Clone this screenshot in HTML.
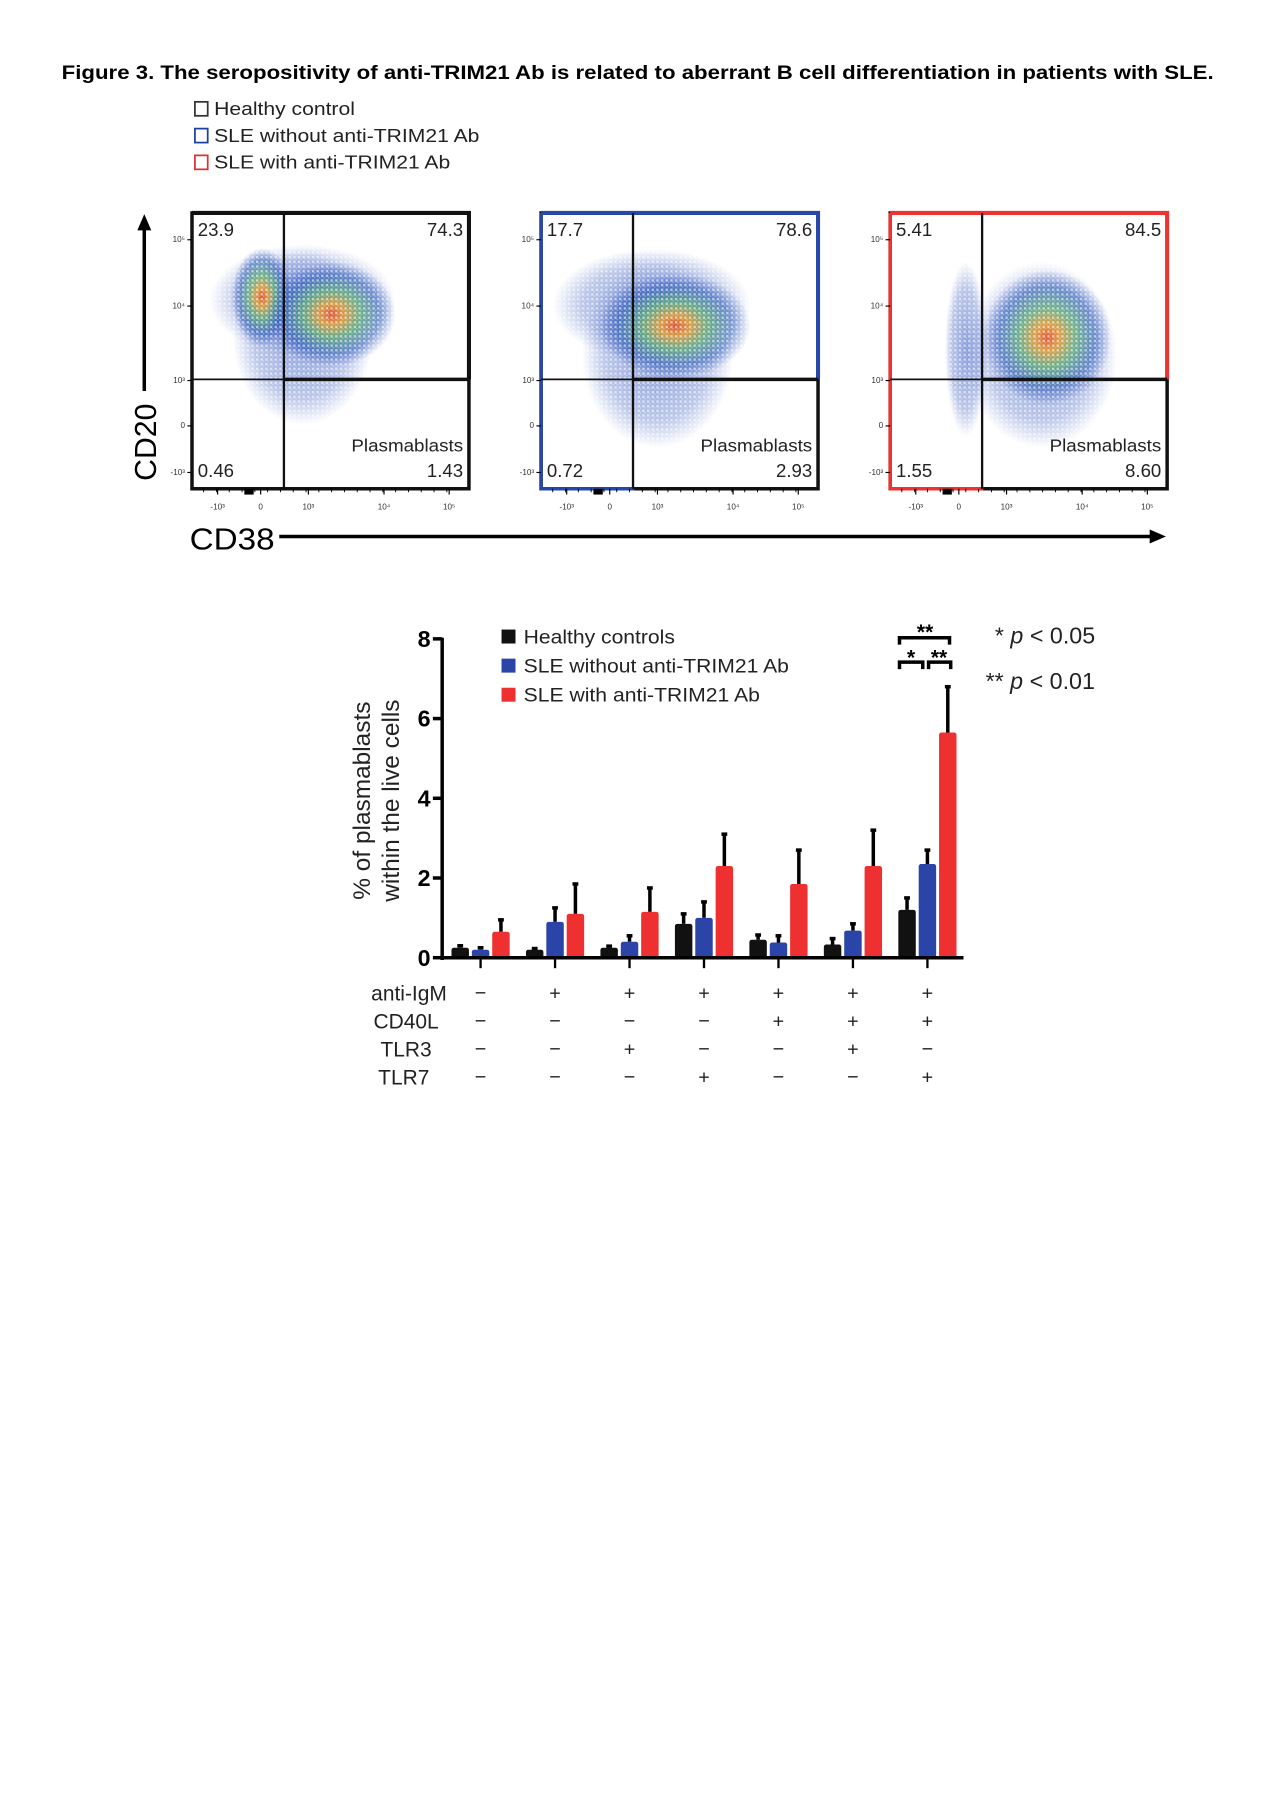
<!DOCTYPE html>
<html><head><meta charset="utf-8"><style>
html,body{margin:0;padding:0;background:#fff;}
svg{display:block;font-family:"Liberation Sans",Arial,sans-serif;}
</style></head><body>
<svg id="fig" width="1280" height="1813" viewBox="0 0 1100 1558" xmlns="http://www.w3.org/2000/svg">
<defs>
<radialGradient id="dens" cx="50%" cy="50%" r="50%">
<stop offset="0" stop-color="#e8502a" stop-opacity="0.9"/><stop offset="0.2" stop-color="#e8a030" stop-opacity="0.85"/><stop offset="0.45" stop-color="#5cb070" stop-opacity="0.75"/><stop offset="0.75" stop-color="#3060b8" stop-opacity="0.6"/><stop offset="1" stop-color="#3050c0" stop-opacity="0"/>
</radialGradient>
<radialGradient id="sparse" cx="50%" cy="50%" r="50%">
<stop offset="0" stop-color="#3a5cc0" stop-opacity="0.6"/><stop offset="0.7" stop-color="#3a5cc0" stop-opacity="0.35"/><stop offset="1" stop-color="#3a5cc0" stop-opacity="0"/>
</radialGradient>
<pattern id="speck" width="4" height="4" patternUnits="userSpaceOnUse">
<rect x="0" y="0" width="2" height="2" fill="#fff" opacity="0.55"/><rect x="2" y="2" width="1" height="1" fill="#fff" opacity="0.4"/>
</pattern>
<marker id="ah" markerUnits="userSpaceOnUse" markerWidth="14" markerHeight="12" refX="2" refY="6" orient="auto"><path d="M0,0 L14,6 L0,12 Z" fill="#000"/></marker>
</defs>
<text x="53" y="68" font-size="17" font-weight="bold" textLength="990" lengthAdjust="spacingAndGlyphs">Figure 3.  The seropositivity of anti-TRIM21 Ab is related to aberrant B cell differentiation in patients with SLE.</text>
<g>
<rect x="167.5" y="87.5" width="11" height="12" fill="none" stroke="#333" stroke-width="1.5"/>
<text x="184" y="99" font-size="16" fill="#222" textLength="121" lengthAdjust="spacingAndGlyphs">Healthy control</text>
<rect x="167.5" y="110.5" width="11" height="12" fill="none" stroke="#2040a0" stroke-width="1.5"/>
<text x="184" y="122" font-size="16" fill="#222" textLength="228" lengthAdjust="spacingAndGlyphs">SLE without anti-TRIM21 Ab</text>
<rect x="167.5" y="133.5" width="11" height="12" fill="none" stroke="#e03030" stroke-width="1.5"/>
<text x="184" y="145" font-size="16" fill="#222" textLength="203" lengthAdjust="spacingAndGlyphs">SLE with anti-TRIM21 Ab</text>
</g>
<g id="panels"></g>
<line x1="124" y1="336" x2="124" y2="196" stroke="#000" stroke-width="3" marker-end="url(#ah)"/>
<text transform="translate(134,380) rotate(-90)" font-size="26" text-anchor="middle">CD20</text>
<text x="163" y="472" font-size="26" textLength="73" lengthAdjust="spacingAndGlyphs">CD38</text>
<line x1="240" y1="461" x2="990" y2="461" stroke="#000" stroke-width="3" marker-end="url(#ah)"/>
<g id="bar-chart"></g>
</svg>
<script>
const NS="http://www.w3.org/2000/svg";
function mk(tag,attrs,parent,txt){const e=document.createElementNS(NS,tag);for(const k in attrs)e.setAttribute(k,attrs[k]);if(txt!==undefined)e.textContent=txt;parent.appendChild(e);return e;}

const panelColors=["#111","#2848a8","#e33"];
const ulVals=["23.9","17.7","5.41"];
const urVals=["74.3","78.6","84.5"];
const llVals=["0.46","0.72","1.55"];
const lrVals=["1.43","2.93","8.60"];
const panelX=[165,465,765];
const pg=document.getElementById('panels');
panelX.forEach((x0,i)=>{
  const g=mk('g',{},pg);
  
  
  if(i===0){
    mk('ellipse',{cx:x0+95,cy:290,rx:60,ry:75,fill:'url(#sparse)'},g);
    mk('ellipse',{cx:x0+95,cy:258,rx:80,ry:48,fill:'url(#sparse)'},g);
    mk('ellipse',{cx:x0+60,cy:255,rx:26,ry:42,fill:'url(#dens)'},g);
    mk('ellipse',{cx:x0+120,cy:270,rx:55,ry:45,fill:'url(#dens)'},g);
  }else if(i===1){
    mk('ellipse',{cx:x0+100,cy:305,rx:65,ry:80,fill:'url(#sparse)'},g);
    mk('ellipse',{cx:x0+95,cy:262,rx:85,ry:48,fill:'url(#sparse)'},g);
    mk('ellipse',{cx:x0+115,cy:280,rx:65,ry:45,fill:'url(#dens)'},g);
  }else{
    mk('ellipse',{cx:x0+130,cy:305,rx:65,ry:80,fill:'url(#sparse)'},g);
    mk('ellipse',{cx:x0+65,cy:300,rx:18,ry:75,fill:'url(#sparse)'},g);
    mk('ellipse',{cx:x0+135,cy:290,rx:55,ry:58,fill:'url(#dens)'},g);
  }
  mk('rect',{x:x0,y:183,width:238,height:237,fill:'url(#speck)'},g);
  mk('rect',{x:x0,y:183,width:238,height:237,fill:'none',stroke:'#111','stroke-width':3},g);
  mk('path',{d:`M${x0} 183 H${x0+238} V326`,fill:'none',stroke:panelColors[i],'stroke-width':3.5},g);
  if(i>0) mk('path',{d:`M${x0} 183 V420 H${x0+80}`,fill:'none',stroke:panelColors[i],'stroke-width':3},g);
  mk('line',{x1:x0+79,y1:183,x2:x0+79,y2:420,stroke:'#111','stroke-width':2},g);
  mk('line',{x1:x0,y1:326,x2:x0+238,y2:326,stroke:'#111','stroke-width':1.5},g);
  mk('line',{x1:x0+79,y1:326,x2:x0+238,y2:326,stroke:'#111','stroke-width':3},g);
  mk('text',{x:x0+5,y:203,'font-size':16,fill:'#222'},g,ulVals[i]);
  mk('text',{x:x0+233,y:203,'font-size':16,'text-anchor':'end',fill:'#222'},g,urVals[i]);
  mk('text',{x:x0+5,y:410,'font-size':16,fill:'#222'},g,llVals[i]);
  mk('text',{x:x0+233,y:410,'font-size':16,'text-anchor':'end',fill:'#222'},g,lrVals[i]);
  mk('text',{x:x0+233,y:388,'font-size':15,'text-anchor':'end',fill:'#222',textLength:96,lengthAdjust:'spacingAndGlyphs'},g,'Plasmablasts');
  [['10⁵',206],['10⁴',263],['10³',327],['0',366],['-10³',406]].forEach(t=>{
    mk('text',{x:x0-6,y:t[1]+2,'font-size':7,'text-anchor':'end',fill:'#333'},g,t[0]);
    mk('line',{x1:x0-4,y1:t[1],x2:x0,y2:t[1],stroke:'#000','stroke-width':1},g);
  });
  [['-10³',22],['0',59],['10³',100],['10⁴',165],['10⁵',221]].forEach(t=>{
    mk('text',{x:x0+t[1],y:438,'font-size':7,'text-anchor':'middle',fill:'#333'},g,t[0]);
    mk('line',{x1:x0+t[1],y1:420,x2:x0+t[1],y2:425,stroke:'#000','stroke-width':1},g);
  });
  for(let k=0;k<20;k++){mk('line',{x1:x0+10+k*11,y1:420,x2:x0+10+k*11,y2:423,stroke:'#000','stroke-width':0.8},g);}
  mk('rect',{x:x0+45,y:420,width:8,height:5,fill:'#000'},g);
});

// ---- bar chart ----
const groups=["1","2","3","4","5","6","7"];
const seriesNames=["Healthy controls","SLE without anti-TRIM21 Ab","SLE with anti-TRIM21 Ab"];
const healthy=[0.25,0.2,0.25,0.85,0.45,0.33,1.2];
const healthyErr=[0.05,0.03,0.04,0.25,0.12,0.15,0.3];
const sleNeg=[0.2,0.9,0.4,1.0,0.38,0.68,2.35];
const sleNegErr=[0.05,0.35,0.15,0.4,0.17,0.17,0.35];
const slePos=[0.65,1.1,1.15,2.3,1.85,2.3,5.65];
const slePosErr=[0.3,0.75,0.6,0.8,0.85,0.9,1.15];
const yTicks=[0,2,4,6,8];
const rowLabels=["anti-IgM","CD40L","TLR3","TLR7"];
const antiIgM=["−","+","+","+","+","+","+"];
const cd40l=["−","−","−","−","+","+","+"];
const tlr3=["−","−","+","−","−","+","−"];
const tlr7=["−","−","−","+","−","−","+"];

const bc=document.getElementById('bar-chart');
const X0=380,X1=828,Y0=823,Y8=549;
const yS=v=>Y0-(v/8)*(Y0-Y8);
const xC=i=>413+i*64;
const colors=["#111","#2a44a8","#ee3030"];
const vals=[healthy,sleNeg,slePos],errs=[healthyErr,sleNegErr,slePosErr];
mk('line',{x1:X0,y1:Y8-1,x2:X0,y2:Y0+2,stroke:'#000','stroke-width':3},bc);
yTicks.forEach(t=>{
  mk('line',{x1:X0-8,y1:yS(t),x2:X0,y2:yS(t),stroke:'#000','stroke-width':3},bc);
  const tl=mk('text',{x:X0-10,y:yS(t)+7,'font-size':20,'font-weight':'bold','text-anchor':'end'},bc,String(t));
  
  
});
const yt=mk('text',{transform:'translate(318,688) rotate(-90)','font-size':21,'text-anchor':'middle',fill:'#222'},bc);


mk('tspan',{x:0,dy:0},yt,'% of plasmablasts');
mk('tspan',{x:0,dy:25},yt,'within the live cells');
groups.forEach((gname,i)=>{
  [0,1,2].forEach(s=>{
    const cx=xC(i)+(s-1)*17.5;
    const v=vals[s][i],e=errs[s][i];
    const el=mk('line',{x1:cx,y1:yS(v),x2:cx,y2:yS(v+e),stroke:'#000','stroke-width':3},bc);
    
    
    mk('line',{x1:cx-2.5,y1:yS(v+e),x2:cx+2.5,y2:yS(v+e),stroke:'#000','stroke-width':3},bc);
    const b=mk('rect',{x:cx-7.5,y:yS(v),width:15,height:Y0-yS(v),fill:colors[s],rx:2},bc);
    
    
  });
  mk('line',{x1:xC(i),y1:Y0,x2:xC(i),y2:Y0+9,stroke:'#000','stroke-width':2},bc);
});
mk('line',{x1:X0,y1:Y0,x2:X1,y2:Y0,stroke:'#000','stroke-width':3},bc);
const legW=[130,228,203];
seriesNames.forEach((n,s)=>{
  const y=541+s*25;
  const r=mk('rect',{x:431,y:y,width:12,height:12,fill:colors[s]},bc);
  
  
  const t=mk('text',{x:450,y:y+12,'font-size':17,fill:'#222',textLength:legW[s],lengthAdjust:'spacingAndGlyphs'},bc,n);
  
  
});
mk('path',{d:'M773 554 V548 H816 V554',fill:'none',stroke:'#000','stroke-width':3},bc);
mk('text',{x:795,y:549,'font-size':18,'font-weight':'bold','text-anchor':'middle'},bc,'**');
mk('path',{d:'M773 575 V569 H793 V575 M798 575 V569 H817 V575',fill:'none',stroke:'#000','stroke-width':3},bc);
mk('text',{x:783,y:571,'font-size':18,'font-weight':'bold','text-anchor':'middle'},bc,'*');
mk('text',{x:807,y:571,'font-size':18,'font-weight':'bold','text-anchor':'middle'},bc,'**');
const p1=mk('text',{x:855,y:553,'font-size':20,fill:'#222'},bc);


mk('tspan',{},p1,'* ');mk('tspan',{'font-style':'italic'},p1,'p');mk('tspan',{},p1,' < 0.05');
const p2=mk('text',{x:847,y:592,'font-size':20,fill:'#222'},bc);


mk('tspan',{},p2,'** ');mk('tspan',{'font-style':'italic'},p2,'p');mk('tspan',{},p2,' < 0.01');
const rows=[antiIgM,cd40l,tlr3,tlr7];
const rowX=[384,377,371,369];
rowLabels.forEach((lab,r)=>{
  const y=860+r*24;
  const t=mk('text',{x:rowX[r],y:y,'font-size':18,'text-anchor':'end',fill:'#222'},bc,lab);
  
  
  rows[r].forEach((s,i)=>{
    mk('text',{x:xC(i),y:y-1,'font-size':17,'text-anchor':'middle',fill:'#222'},bc,s);
  });
});
</script>
</body></html>
